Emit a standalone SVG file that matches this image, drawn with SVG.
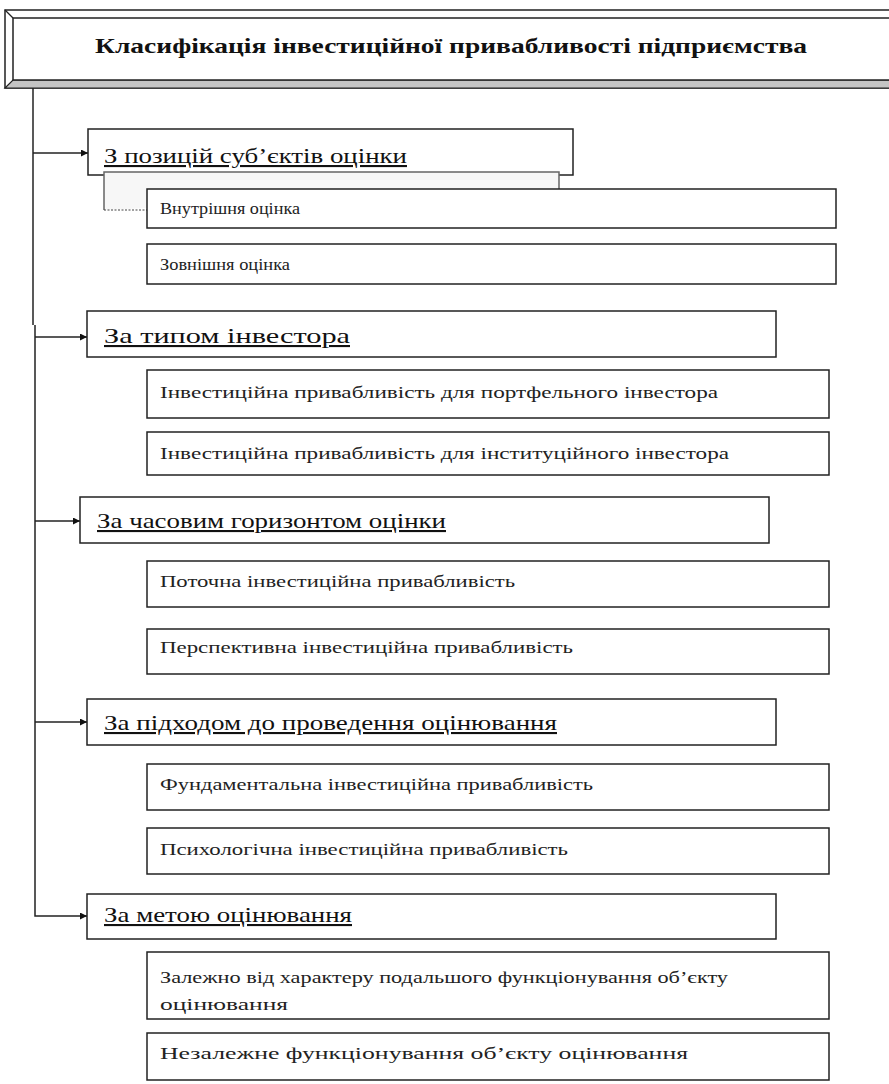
<svg xmlns="http://www.w3.org/2000/svg" width="889" height="1084" viewBox="0 0 889 1084">
<defs>
<style>
.box{fill:#fff;stroke:#222;stroke-width:1.5}
.con{fill:none;stroke:#222;stroke-width:1.5}
text{font-family:'Liberation Serif','DejaVu Serif',serif}
.hd{font-size:21px;fill:#111;text-decoration:underline}
.sb{font-size:16px;fill:#222}
.ttl{font-size:21px;font-weight:bold;fill:#111}
</style>
<marker id="ah" viewBox="0 0 10 10" refX="10" refY="5" markerWidth="7" markerHeight="7" markerUnits="userSpaceOnUse" orient="auto">
<path d="M0,0 L10,5 L0,10 z" fill="#111"/>
</marker>
</defs>
<rect width="889" height="1084" fill="#fff"/>

<g id="title">
<rect x="5" y="10" width="890" height="78" fill="#fff" stroke="#222" stroke-width="1.5"/>
<path d="M5,88 L13,80 L895,80 L895,88 Z" fill="#c4c4c4" stroke="#222" stroke-width="1.2"/>
<rect x="13" y="18" width="882" height="62" fill="#fff" stroke="#222" stroke-width="1.5"/>
<line x1="5" y1="10" x2="13" y2="18" stroke="#222" stroke-width="1.2"/>
<text class="ttl" font-family="Liberation Serif, serif" x="95" y="53" textLength="712" lengthAdjust="spacingAndGlyphs">Класифікація інвестиційної привабливості підприємства</text>
</g>

<g id="connectors">
<path class="con" d="M33,88 L33,325"/>
<path class="con" d="M35,325 L35,916 L87,916" marker-end="url(#ah)"/>
<path class="con" d="M33,153 L88,153" marker-end="url(#ah)"/>
<path class="con" d="M35,337 L87,337" marker-end="url(#ah)"/>
<path class="con" d="M35,521 L80,521" marker-end="url(#ah)"/>
<path class="con" d="M35,722 L87,722" marker-end="url(#ah)"/>
</g>

<g id="n1">
<rect class="box" x="88" y="129" width="485" height="46"/>
<text class="hd" font-family="Liberation Serif, serif" x="104" y="163" textLength="303" lengthAdjust="spacingAndGlyphs">З позицій суб’єктів оцінки</text>
</g>
<g id="n1-shadow">
<path d="M104,210 L104,172 L559,172 L559,189" fill="#f7f7f7" stroke="#666" stroke-width="1.5"/>
<line x1="104" y1="210" x2="147" y2="210" stroke="#444" stroke-width="1.2" stroke-dasharray="2,1.5"/>
</g>
<g id="n1a">
<rect class="box" x="147" y="189" width="689" height="39"/>
<text class="sb" font-family="Liberation Serif, serif" x="160" y="214" textLength="140" lengthAdjust="spacingAndGlyphs">Внутрішня оцінка</text>
</g>
<g id="n1b">
<rect class="box" x="147" y="244" width="689" height="40"/>
<text class="sb" font-family="Liberation Serif, serif" x="160" y="270" textLength="130" lengthAdjust="spacingAndGlyphs">Зовнішня оцінка</text>
</g>

<g id="n2">
<rect class="box" x="87" y="311" width="689" height="46"/>
<text class="hd" font-family="Liberation Serif, serif" x="104" y="343" textLength="246" lengthAdjust="spacingAndGlyphs">За типом інвестора</text>
</g>
<g id="n2a">
<rect class="box" x="147" y="370" width="682" height="48"/>
<text class="sb" font-family="Liberation Serif, serif" x="160" y="398" textLength="558" lengthAdjust="spacingAndGlyphs">Інвестиційна привабливість для портфельного інвестора</text>
</g>
<g id="n2b">
<rect class="box" x="147" y="432" width="682" height="43"/>
<text class="sb" font-family="Liberation Serif, serif" x="160" y="459" textLength="569" lengthAdjust="spacingAndGlyphs">Інвестиційна привабливість для інституційного інвестора</text>
</g>

<g id="n3">
<rect class="box" x="80" y="497" width="689" height="46"/>
<text class="hd" font-family="Liberation Serif, serif" x="97" y="528" textLength="349" lengthAdjust="spacingAndGlyphs">За часовим горизонтом оцінки</text>
</g>
<g id="n3a">
<rect class="box" x="147" y="561" width="682" height="46"/>
<text class="sb" font-family="Liberation Serif, serif" x="160" y="587" textLength="355" lengthAdjust="spacingAndGlyphs">Поточна інвестиційна привабливість</text>
</g>
<g id="n3b">
<rect class="box" x="147" y="629" width="682" height="45"/>
<text class="sb" font-family="Liberation Serif, serif" x="160" y="653" textLength="413" lengthAdjust="spacingAndGlyphs">Перспективна інвестиційна привабливість</text>
</g>

<g id="n4">
<rect class="box" x="87" y="699" width="689" height="46"/>
<text class="hd" font-family="Liberation Serif, serif" x="104" y="730" textLength="453" lengthAdjust="spacingAndGlyphs">За підходом до проведення оцінювання</text>
</g>
<g id="n4a">
<rect class="box" x="147" y="764" width="682" height="46"/>
<text class="sb" font-family="Liberation Serif, serif" x="160" y="790" textLength="433" lengthAdjust="spacingAndGlyphs">Фундаментальна інвестиційна привабливість</text>
</g>
<g id="n4b">
<rect class="box" x="147" y="828" width="682" height="46"/>
<text class="sb" font-family="Liberation Serif, serif" x="160" y="855" textLength="408" lengthAdjust="spacingAndGlyphs">Психологічна інвестиційна привабливість</text>
</g>

<g id="n5">
<rect class="box" x="87" y="894" width="689" height="45"/>
<text class="hd" font-family="Liberation Serif, serif" x="104" y="922" textLength="248" lengthAdjust="spacingAndGlyphs">За метою оцінювання</text>
</g>
<g id="n5a">
<rect class="box" x="147" y="952" width="682" height="67"/>
<text class="sb" font-family="Liberation Serif, serif" x="160" y="983" textLength="568" lengthAdjust="spacingAndGlyphs">Залежно від характеру подальшого функціонування об’єкту</text>
<text class="sb" font-family="Liberation Serif, serif" x="160" y="1010" textLength="128" lengthAdjust="spacingAndGlyphs">оцінювання</text>
</g>
<g id="n5b">
<rect class="box" x="147" y="1033" width="682" height="47"/>
<text class="sb" font-family="Liberation Serif, serif" x="160" y="1059" textLength="528" lengthAdjust="spacingAndGlyphs">Незалежне функціонування об’єкту оцінювання</text>
</g>
</svg>
